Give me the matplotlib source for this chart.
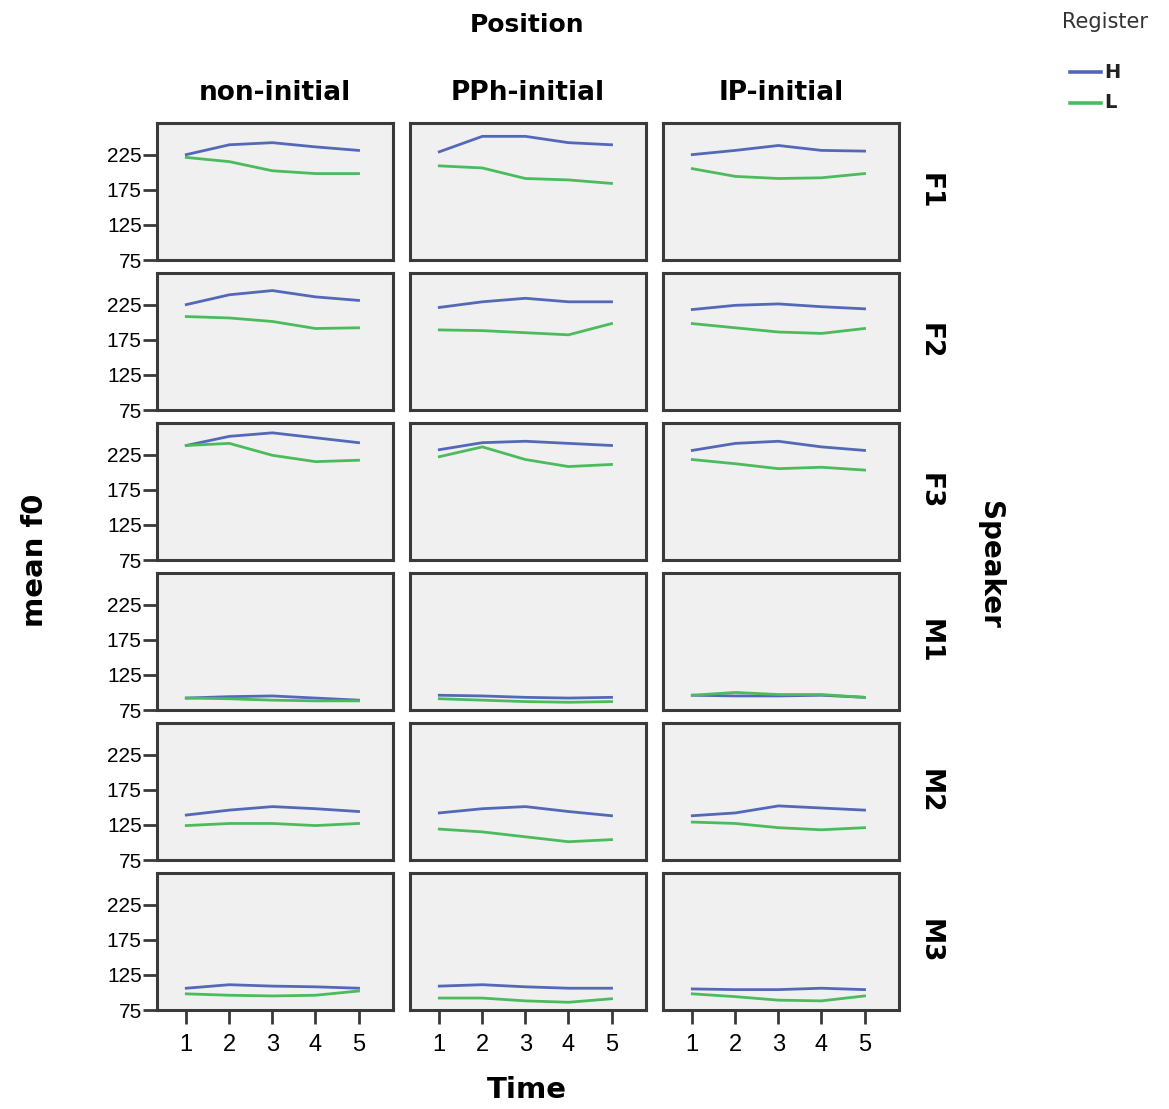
import matplotlib
matplotlib.use("Agg")
import matplotlib.pyplot as plt
from matplotlib.lines import Line2D

# data (mean f0 per time point)
time = [1, 2, 3, 4, 5]
positions = ["non-initial", "PPh-initial", "IP-initial"]
speakers = ["F1", "F2", "F3", "M1", "M2", "M3"]
registers = ["H", "L"]

# H register, one list per speaker, one row per position
H_vals = {
    "F1": [[225, 239, 242, 236, 231], [229, 251, 251, 242, 239], [225, 231, 238, 231, 230]],
    "F2": [[225, 239, 245, 236, 231], [221, 229, 234, 229, 229], [218, 224, 226, 222, 219]],
    "F3": [[238, 251, 256, 249, 242], [232, 242, 244, 241, 238], [231, 241, 244, 236, 231]],
    "M1": [[92, 94, 95, 92, 89], [96, 95, 93, 92, 93], [96, 95, 95, 96, 93]],
    "M2": [[139, 146, 151, 148, 144], [142, 148, 151, 144, 138], [138, 142, 152, 149, 146]],
    "M3": [[106, 111, 109, 108, 106], [109, 111, 108, 106, 106], [105, 104, 104, 106, 104]],
}
L_vals = {
    "F1": [[221, 215, 202, 198, 198], [209, 206, 191, 189, 184], [205, 194, 191, 192, 198]],
    "F2": [[208, 206, 201, 191, 192], [189, 188, 185, 182, 198], [198, 192, 186, 184, 191]],
    "F3": [[238, 241, 224, 215, 217], [222, 236, 218, 208, 211], [218, 212, 205, 207, 203]],
    "M1": [[92, 91, 89, 88, 88], [91, 89, 87, 86, 87], [96, 100, 97, 97, 93]],
    "M2": [[124, 127, 127, 124, 127], [119, 115, 108, 101, 104], [129, 127, 121, 118, 121]],
    "M3": [[98, 96, 95, 96, 102], [92, 92, 88, 86, 91], [98, 94, 89, 88, 95]],
}
y_ticks = [75, 125, 175, 225]

colors = {"H": "#5468b8", "L": "#4cbb5e"}
frame_col = "#3a3a3a"

W, Hpx = 1169, 1109
fig = plt.figure(figsize=(W / 100, Hpx / 100), dpi=100)

col_left = [157, 410, 663]
col_w = 236
row_top = [123, 273, 423, 573, 723, 873]
row_h = 137

def px_axes(x, y, w, h):
    return fig.add_axes([x / W, 1 - (y + h) / Hpx, w / W, h / Hpx])

for r, spk in enumerate(speakers):
    for c, pos in enumerate(positions):
        ax = px_axes(col_left[c], row_top[r], col_w, row_h)
        ax.set_facecolor("#f0f0f0")
        ax.plot(time, H_vals[spk][c], color=colors["H"], lw=2.0)
        ax.plot(time, L_vals[spk][c], color=colors["L"], lw=2.0)
        ax.set_xlim(0.32, 5.8)
        ax.set_ylim(75, 270)
        for s in ax.spines.values():
            s.set_color(frame_col)
            s.set_linewidth(2.2)
        ax.set_yticks(y_ticks)
        ax.set_xticks(time)
        ax.tick_params(direction="out", length=10, width=2.0, color=frame_col,
                       labelsize=15, pad=1)
        if c == 0:
            ax.set_yticklabels([str(v) for v in y_ticks], family="Liberation Sans")
        else:
            ax.tick_params(axis="y", left=False, labelleft=False)
        if r == len(speakers) - 1:
            ax.set_xticklabels([str(t) for t in time], family="Liberation Sans")
            ax.tick_params(axis="x", pad=7, labelsize=17)
        else:
            ax.tick_params(axis="x", bottom=False, labelbottom=False)
        # row label on the right side
        if c == 2:
            fig.text(930 / W, 1 - (row_top[r] + row_h / 2) / Hpx, spk, rotation=270,
                     ha="center", va="center", fontsize=19, fontweight="bold")

# column headers
for c, pos in enumerate(positions):
    fig.text((col_left[c] + col_w / 2) / W, 1 - 93 / Hpx, pos, ha="center", va="center",
             fontsize=19, fontweight="bold")

fig.text(527 / W, 1 - 25 / Hpx, "Position", ha="center", va="center",
         fontsize=18, fontweight="bold")
fig.text(527 / W, 1 - 1090 / Hpx, "Time", ha="center", va="center",
         fontsize=21, fontweight="bold")
fig.text(35 / W, 1 - 560 / Hpx, "mean f0", rotation=90, ha="center", va="center",
         fontsize=21, fontweight="bold")
fig.text(990 / W, 1 - 565 / Hpx, "Speaker", rotation=270, ha="center", va="center",
         fontsize=20, fontweight="bold")

# legend
fig.text(1105 / W, 1 - 22 / Hpx, "Register", ha="center", va="center",
         fontsize=15, color="#333333")
for i, reg in enumerate(registers):
    yy = 1 - (72 + 31 * i) / Hpx
    fig.add_artist(Line2D([1070 / W, 1101 / W], [yy, yy], color=colors[reg], lw=2.6))
    fig.text(1104 / W, yy, reg, ha="left", va="center", fontsize=14,
             fontweight="semibold", color="#222222")

fig.savefig("out.png", dpi=100)
